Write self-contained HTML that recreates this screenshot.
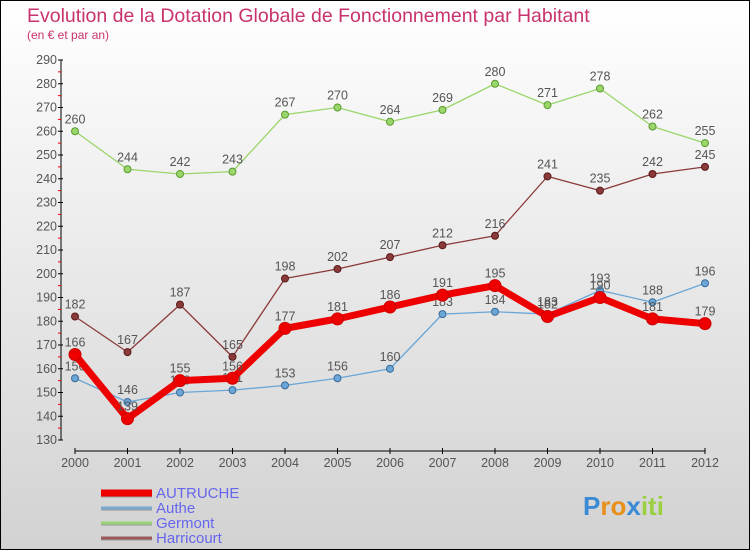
<!DOCTYPE html>
<html><head><meta charset="utf-8"><style>
body{margin:0;}
#c{width:748px;height:548px;border:1px solid #000;background:linear-gradient(#fff,#d2d2d2);position:relative;font-family:"Liberation Sans","DejaVu Sans",sans-serif;overflow:hidden}
svg{position:absolute;left:0;top:0}
</style></head><body>
<div id="c">
<svg id="s" width="748" height="548"></svg>
</div>
<script>
const years=[2000,2001,2002,2003,2004,2005,2006,2007,2008,2009,2010,2011,2012];
const yTicks=[130,140,150,160,170,180,190,200,210,220,230,240,250,260,270,280,290];
const autruche=[166,139,155,156,177,181,186,191,195,182,190,181,179];
const authe=[156,146,150,151,153,156,160,183,184,183,193,188,196];
const germont=[260,244,242,243,267,270,264,269,280,271,278,262,255];
const harricourt=[182,167,187,165,198,202,207,212,216,241,235,242,245];
const NS='http://www.w3.org/2000/svg';
const s=document.getElementById('s');
function X(i){return 74+i*52.5;}
function Y(v){return 59+(290-v)*2.375;}
function el(t,a,p){const e=document.createElementNS(NS,t);for(const k in a)e.setAttribute(k,a[k]);(p||s).appendChild(e);return e;}
let t=el('text',{x:26,y:21,'font-size':19.5,fill:'#c8326e'});t.textContent='Evolution de la Dotation Globale de Fonctionnement par Habitant';

t=el('text',{x:26,y:38,'font-size':12,fill:'#c8326e'});t.textContent='(en € et par an)';

let a=el('line',{x1:60,y1:Y(290),x2:60,y2:Y(130),stroke:'#000'});

yTicks.forEach((v,i)=>{
 el('line',{x1:57,x2:62,y1:Y(v),y2:Y(v),stroke:'#000'});
 if(i<yTicks.length-1)el('line',{x1:57,x2:60,y1:Y(v+5),y2:Y(v+5),stroke:'#e00'});
 const tt=el('text',{x:56,y:Y(v)+4,'font-size':12.5,fill:'#555','text-anchor':'end'});tt.textContent=v;
 
});
a=el('line',{x1:X(0),y1:450,x2:X(12),y2:450,stroke:'#000'});

years.forEach((y,i)=>{
 el('line',{x1:X(i),x2:X(i),y1:447,y2:453,stroke:'#000'});
 const tt=el('text',{x:X(i),y:466,'font-size':12.5,fill:'#555','text-anchor':'middle'});tt.textContent=y;
 
});
function series(d,col,dark,w,r,name){
 const g=el('g',{});
 el('polyline',{points:d.map((v,i)=>X(i)+','+Y(v)).join(' '),fill:'none',stroke:col,'stroke-width':w,'stroke-linejoin':'round'},g);
 d.forEach((v,i)=>{
  const c=el('circle',{cx:X(i),cy:Y(v),r:r,fill:col,stroke:dark,'stroke-width':1},g);
  
  const tt=el('text',{x:X(i),y:Y(v)-8,'font-size':12.5,fill:'#555','text-anchor':'middle'},g);tt.textContent=v;
 });
}
series(germont,'#9ad66a','#5a9a30',1.3,3.5,'germont');
series(harricourt,'#8b3a3a','#5a1a1a',1.3,3.5,'harricourt');
series(authe,'#6aa6d6','#3a6a9a',1.3,3.5,'authe');
series(autruche,'#ee0000','#c00',7,6,'autruche');
const leg=[['AUTRUCHE','#ee0000',7],['Authe','#7aaad0',3],['Germont','#99d577',3],['Harricourt','#9a5a5a',3]];
leg.forEach((l,i)=>{
 const y=492+i*15;
 const g=el('g',{});
 el('line',{x1:100,x2:151,y1:y+1,y2:y+1,stroke:'#999','stroke-width':l[2]},g);
 el('line',{x1:100,x2:151,y1:y,y2:y,stroke:l[1],'stroke-width':l[2]},g);
 const tt=el('text',{x:155,y:y+5,'font-size':15,fill:'#6666ee'},g);tt.textContent=l[0];
});
const lg=el('text',{x:582,y:514,'font-size':26,'font-weight':'bold',fill:'#e88a1a'});
lg.innerHTML='<tspan fill="#3a8ad6">P</tspan><tspan fill="#e8901a">ro</tspan><tspan fill="#3a8ad6">x</tspan><tspan fill="#9ad040">iti</tspan>';

</script>
</body></html>
